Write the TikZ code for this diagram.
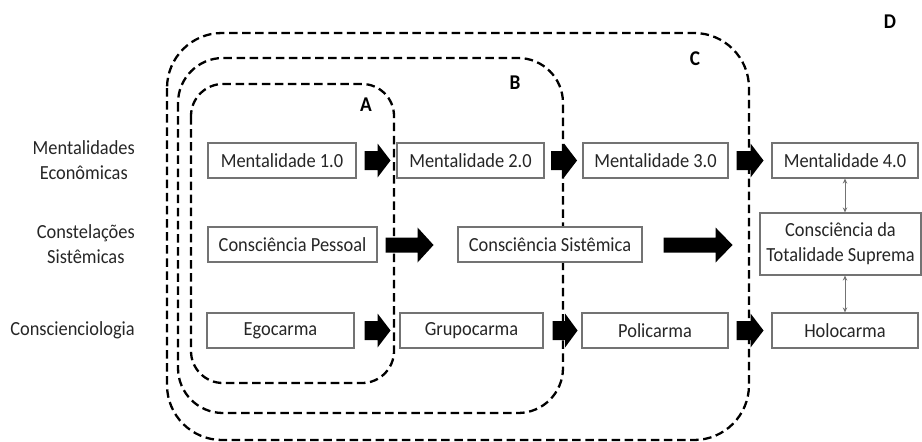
\documentclass[tikz,border=0pt]{standalone}
\usepackage{fontspec}
\setmainfont{Carlito}[FakeStretch=0.92]
\usetikzlibrary{arrows.meta,calc}
\definecolor{txt}{rgb}{0.15,0.15,0.15}
\definecolor{boxline}{rgb}{0.45,0.45,0.45}
\tikzset{
  box/.style={draw=boxline, line width=1.1pt, fill=white, inner sep=0pt,
    minimum height=35pt, text=txt, align=center,
    font=\fontsize{20}{25}\selectfont},
  rowlabel/.style={anchor=east, align=center, text=txt, inner sep=0pt,
    font=\fontsize{20}{25}\selectfont},
  zone/.style={draw=black, line width=2.3pt, dash pattern=on 8.5pt off 4.6pt},
  zonelabel/.style={font=\fontsize{21}{24}\selectfont\bfseries, text=black, inner sep=0pt},
  link/.style={draw=boxline, line width=0.9pt,
    {Stealth[length=5pt,width=4.5pt]}-{Stealth[length=5pt,width=4.5pt]}}
}
% block arrow: #1 start point, #2 total length, #3 head length,
% #4 half shaft thickness, #5 half head width
\newcommand\blockarrow[5]{%
  \fill[black] (#1) ++(0,-#4) -- ++(#2-#3,0) -- ++(0,#4-#5) -- ++(#3,#5)
    -- ++(-#3,#5) -- ++(0,#4-#5) -- ++(#3-#2,0) -- cycle;}
\begin{document}
\begin{tikzpicture}[x=1pt,y=-1pt]
\useasboundingbox (0,0) rectangle (922,442);

% nested scopes
\draw[zone, rounded corners=32pt] (191,84) rectangle (394,383);
\draw[zone, rounded corners=45pt] (178,58) rectangle (563,413);
\draw[zone, rounded corners=55pt] (167,33) rectangle (749,440);

\node[zonelabel] (la) at (366,105) {A};
\node[zonelabel] (lb) at (515,83) {B};
\node[zonelabel] (lc) at (695,59) {C};
\node[zonelabel] (ld) at (890,22) {D};

% row headings
\node[rowlabel] (r1) at (135,160.5) {Mentalidades\\Econômicas};
\node[rowlabel] (r2) at (135,244.5) {Constelações\\Sistêmicas};
\node[rowlabel] (r3) at (135,330) {Conscienciologia};

% row 1
\node[box, minimum width=148pt] (m1) at (282,160.5) {Mentalidade 1.0};
\node[box, minimum width=147pt] (m2) at (470.5,160.5) {Mentalidade 2.0};
\node[box, minimum width=145pt] (m3) at (655.5,160.5) {Mentalidade 3.0};
\node[box, minimum width=146pt] (m4) at (845,160.5) {Mentalidade 4.0};

% row 2
\node[box, minimum width=169pt] (cp) at (292.5,244.5) {Consciência Pessoal};
\node[box, minimum width=184pt] (cs) at (550,244.5) {Consciência Sistêmica};
\node[box, minimum width=161pt, minimum height=62pt] (ct) at (840.5,244) {Consciência da\\Totalidade Suprema};

% row 3
\node[box, minimum width=147pt] (eg) at (280.5,330.5) {Egocarma};
\node[box, minimum width=143pt] (gr) at (471.5,330.5) {Grupocarma};
\node[box, minimum width=146pt] (po) at (655,330.5) {Policarma};
\node[box, minimum width=146pt] (ho) at (845,330.5) {Holocarma};

% progression arrows
\blockarrow{$(m1.east)+(8,0)$}{26}{13}{9.5}{17}
\blockarrow{$(m2.east)+(6.5,0)$}{26}{13}{9.5}{17}
\blockarrow{$(m3.east)+(8,0)$}{27}{13}{9.5}{17}
\blockarrow{$(cp.east)+(8,0.5)$}{48}{16}{7.5}{17.5}
\blockarrow{$(cs.east)+(21,0.5)$}{69}{17}{7.5}{17.5}
\blockarrow{$(eg.east)+(10,0)$}{26}{13}{9.5}{17}
\blockarrow{$(gr.east)+(9,0)$}{25}{12.5}{9.5}{17}
\blockarrow{$(po.east)+(8,0)$}{27}{13}{9.5}{17}

% vertical links
\draw[link] (m4.south) -- (m4.south |- ct.north);
\draw[link] (ho.north |- ct.south) -- (ho.north);
\end{tikzpicture}
\end{document}
